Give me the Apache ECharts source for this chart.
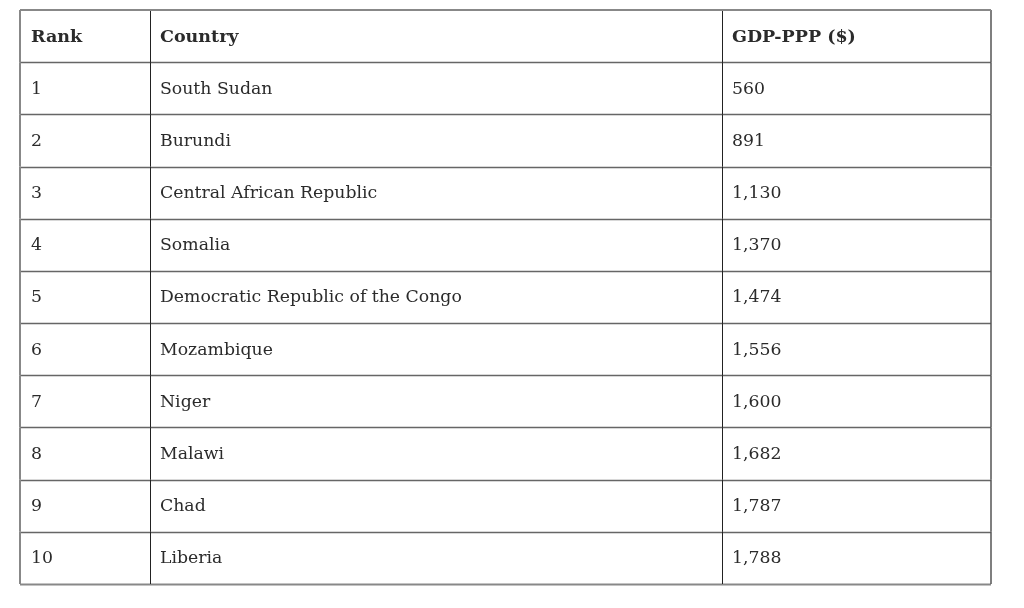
<!DOCTYPE html>
<html>
<head>
<meta charset="utf-8">
<script src="https://cdn.jsdelivr.net/npm/echarts@6/dist/echarts.min.js"></script>
<style>html,body{margin:0;padding:0;background:#fff;}#main{width:1024px;height:608px;}</style>
</head>
<body>
<div id="main"></div>
<script>
var headers = ['Rank', 'Country', 'GDP-PPP ($)'];
var ranks = [1, 2, 3, 4, 5, 6, 7, 8, 9, 10];
var countries = ['South Sudan', 'Burundi', 'Central African Republic', 'Somalia', 'Democratic Republic of the Congo', 'Mozambique', 'Niger', 'Malawi', 'Chad', 'Liberia'];
var gdpPPP = [560, 891, 1130, 1370, 1474, 1556, 1600, 1682, 1787, 1788];

var chart = echarts.init(document.getElementById('main'));
var rowNames = ['header'].concat(ranks.map(String));
var colEdges = [0, 130, 702, 971];
var FONT = '"DejaVu Serif", Georgia, serif';

function cellTexts(i) {
  if (i === 0) return headers;
  return [String(ranks[i - 1]), countries[i - 1], gdpPPP[i - 1].toLocaleString('en-US')];
}

chart.setOption({
  animation: false,
  grid: { left: 20, right: 33, top: 10, bottom: 24 },
  xAxis: { type: 'value', min: 0, max: 971, show: false },
  yAxis: { type: 'category', data: rowNames, inverse: true, show: false, boundaryGap: true },
  series: [{
    type: 'custom',
    coordinateSystem: 'cartesian2d',
    data: rowNames.map(function (n, i) { return [0, i]; }),
    encode: { x: 0, y: 1 },
    renderItem: function (params, api) {
      var i = api.value(1);
      var yc = api.coord([0, i])[1];
      var h = api.size([0, 1])[1];
      var top = yc - h / 2, bot = yc + h / 2;
      var xs = colEdges.map(function (e) { return api.coord([e, i])[0]; });
      var children = [];
      var texts = cellTexts(i);
      for (var c = 0; c < 3; c++) {
        children.push({
          type: 'text',
          style: {
            x: xs[c] + (c === 0 ? 11 : 10), y: yc + 1,
            text: texts[c],
            fill: '#2b2b2b',
            font: (i === 0 ? 'bold 17.5px ' : '17.3px ') + FONT,
            verticalAlign: 'middle', align: 'left'
          }
        });
      }
      var last = i === rowNames.length - 1;
      children.push({
        type: 'line',
        shape: { x1: xs[0], y1: Math.round(bot) + 0.5, x2: xs[3], y2: Math.round(bot) + 0.5 },
        style: { stroke: last ? '#888' : '#666', lineWidth: last ? 2 : 1.5 }
      });
      [1, 2].forEach(function (k) {
        children.push({
          type: 'line',
          shape: { x1: Math.round(xs[k]) + 0.5, y1: top, x2: Math.round(xs[k]) + 0.5, y2: bot },
          style: { stroke: '#222', lineWidth: 1 }
        });
      });
      children.push({ type: 'line', shape: { x1: xs[0], y1: top, x2: xs[0], y2: bot }, style: { stroke: '#888', lineWidth: 2 } });
      children.push({ type: 'line', shape: { x1: xs[3], y1: top, x2: xs[3], y2: bot }, style: { stroke: '#555', lineWidth: 1.5 } });
      if (i === 0) {
        children.push({ type: 'line', shape: { x1: xs[0], y1: top, x2: xs[3], y2: top }, style: { stroke: '#888', lineWidth: 2 } });
      }
      return { type: 'group', children: children };
    }
  }]
});
</script>
</body>
</html>
